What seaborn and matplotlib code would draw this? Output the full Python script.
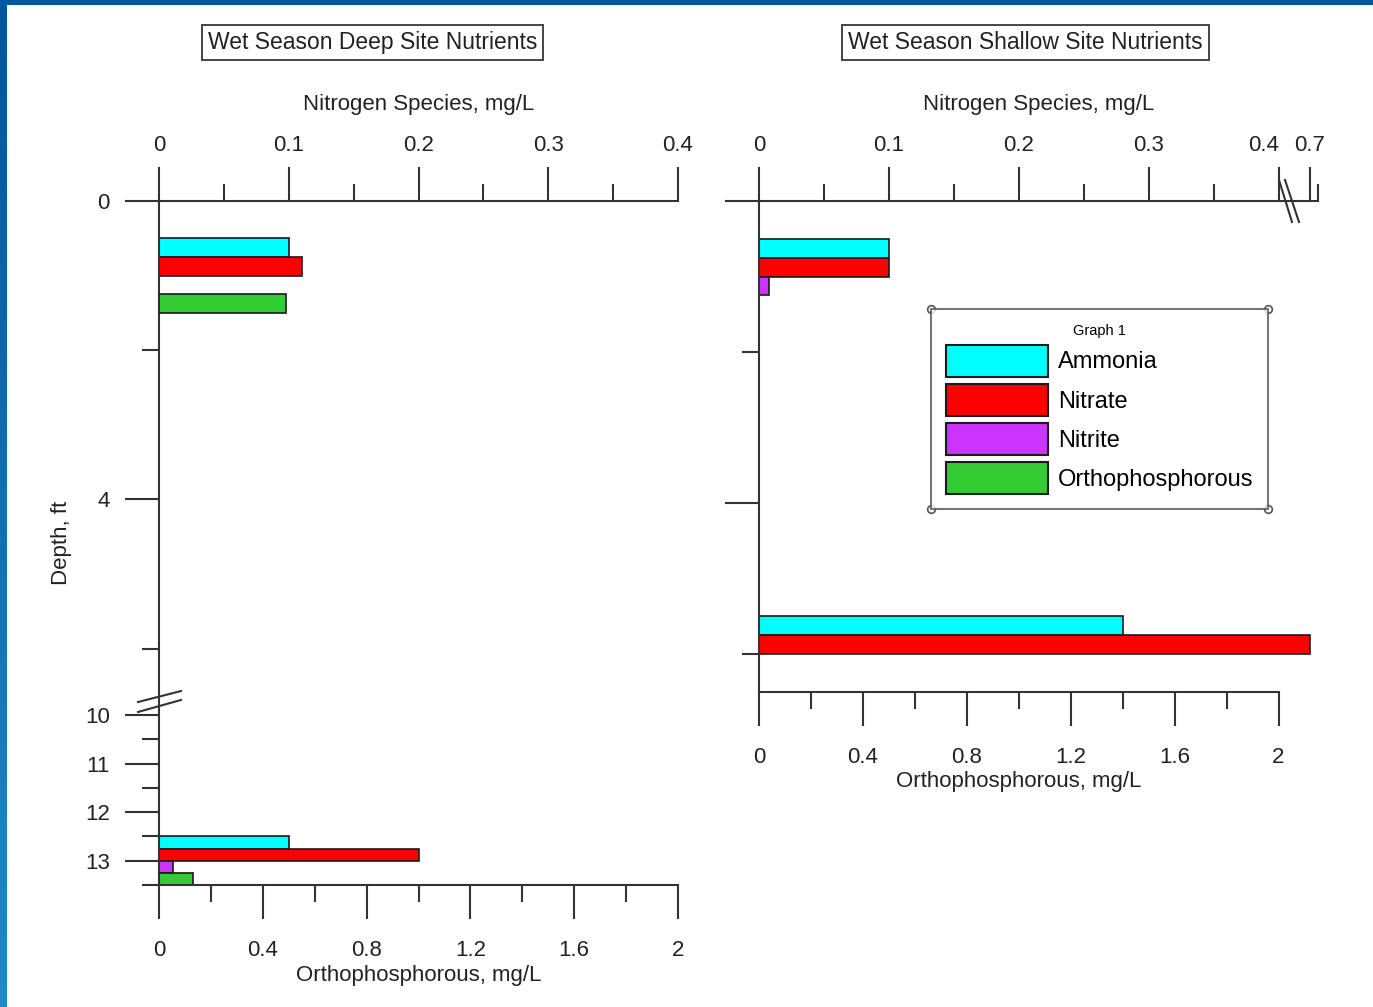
import numpy as np
import pandas as pd
import matplotlib
matplotlib.use("Agg")
import matplotlib.pyplot as plt
from matplotlib.patches import Patch, Rectangle
from matplotlib.lines import Line2D
from matplotlib.colors import LinearSegmentedColormap
from matplotlib import font_manager
import seaborn as sns

plt.rcParams["font.family"] = ["Liberation Sans", "DejaVu Sans"]

# ---- data -------------------------------------------------------------
species = ["Ammonia", "Nitrate", "Nitrite", "Orthophosphorous"]
colors = ["#00FFFF", "#FF0000", "#CC33FF", "#33CC33"]

deep_depth = [1, 13]
deep_ammonia = [0.10, 0.10]
deep_nitrate = [0.11, 0.20]
deep_nitrite = [np.nan, 0.011]
deep_ortho = [0.49, 0.13]

shallow_depth = [1, 6]
shallow_ammonia = [0.10, 0.28]
shallow_nitrate = [0.10, 0.70]
shallow_nitrite = [0.008, np.nan]
shallow_ortho = [np.nan, np.nan]

titles = ["Wet Season Deep Site Nutrients", "Wet Season Shallow Site Nutrients"]
nitro_label = "Nitrogen Species, mg/L"
ortho_label = "Orthophosphorous, mg/L"
depth_label = "Depth, ft"

nitro_ticks = [0, 0.1, 0.2, 0.3, 0.4]
nitro_tick_labels = ["0", "0.1", "0.2", "0.3", "0.4"]
nitro_minor = [0.05, 0.15, 0.25, 0.35]
nitro_break_tick = 0.7
ortho_ticks = [0, 0.4, 0.8, 1.2, 1.6, 2.0]
ortho_tick_labels = ["0", "0.4", "0.8", "1.2", "1.6", "2"]
ortho_minor = [0.2, 0.6, 1.0, 1.4, 1.8]
deep_depth_ticks = [0, 4, 10, 11, 12, 13]
deep_depth_labels = ["0", "4", "10", "11", "12", "13"]
deep_depth_minor = [2, 6, 10.5, 11.5, 12.5, 13.5]
shallow_depth_ticks = [0, 4]
shallow_depth_minor = [2, 6]

palette = dict(zip(species, colors))
INK = "#222222"
AX = "#333333"
FS = 16


def long_frame(depth, names, columns):
    parts = [pd.DataFrame({"depth": depth, "species": n, "value": v})
             for n, v in zip(names, columns)]
    return pd.concat(parts, ignore_index=True).dropna()


def broken(lo, hi, gap, k=1.0):
    """Piecewise-linear scale that squeezes (lo, hi) into a short gap."""
    def fwd(v):
        v = np.asarray(v, dtype=float)
        mid = lo + (v - lo) * gap / (hi - lo)
        top = lo + gap + (v - hi) * k
        return np.where(v <= lo, v, np.where(v >= hi, top, mid))

    def inv(u):
        u = np.asarray(u, dtype=float)
        mid = lo + (u - lo) * (hi - lo) / gap
        top = hi + (u - lo - gap) / k
        return np.where(u <= lo, u, np.where(u >= lo + gap, top, mid))
    return fwd, inv


def identity(v):
    return np.asarray(v, dtype=float)


def bars(ax, df, fwd=identity):
    # one call per depth so every group spans one foot of depth,
    # whatever the local stretch of the depth scale is
    for d, sub in df.groupby("depth"):
        w = float(fwd(d + 0.5) - fwd(d - 0.5))
        sns.barplot(data=sub, x="value", y="depth", hue="species",
                    hue_order=species, palette=palette, orient="y",
                    native_scale=True, width=w, errorbar=None,
                    dodge=True, saturation=1, edgecolor="#1a1a1a",
                    linewidth=1.2, legend=False, ax=ax)


def style_axes(ax, axo):
    ax.xaxis.tick_top()
    ax.xaxis.set_label_position("top")
    axo.xaxis.tick_bottom()
    axo.xaxis.set_label_position("bottom")
    for s in ["bottom", "right"]:
        ax.spines[s].set_visible(False)
    for s in ["top", "left", "right"]:
        axo.spines[s].set_visible(False)
    for a in (ax, axo):
        for sp in a.spines.values():
            sp.set_linewidth(1.5)
            sp.set_color(AX)
    ax.tick_params(axis="x", which="major", direction="out", length=24.5,
                   width=1.5, pad=8, top=True, bottom=False, labeltop=True,
                   labelbottom=False, labelsize=FS, colors=AX, labelcolor=INK)
    ax.tick_params(axis="x", which="minor", direction="out", length=12.2,
                   width=1.5, top=True, bottom=False, colors=AX)
    ax.tick_params(axis="y", which="major", direction="out", length=24.5,
                   width=1.5, pad=11, left=True, right=False, labelsize=FS,
                   colors=AX, labelcolor=INK)
    ax.tick_params(axis="y", which="minor", direction="out", length=12.2,
                   width=1.5, left=True, right=False, colors=AX)
    axo.tick_params(axis="x", which="major", direction="out", length=24.5,
                    width=1.5, pad=15, bottom=True, top=False,
                    labelbottom=True, labeltop=False, labelsize=FS,
                    colors=AX, labelcolor=INK)
    axo.tick_params(axis="x", which="minor", direction="out", length=12.2,
                    width=1.5, bottom=True, top=False, colors=AX)
    ax.set_facecolor("none")


fig = plt.figure(figsize=(13.73, 10.07), dpi=100)
fig.patch.set_facecolor("white")
W, H = 1373.0, 1007.0

# ---- deep site --------------------------------------------------------
depth_fwd, depth_inv = broken(6.7, 9.8, 0.06, 0.651)
axL = fig.add_axes([159 / W, 1 - 885 / H, 519 / W, 684 / H])
axL.set_yscale("function", functions=(depth_fwd, depth_inv))
axLo = axL.twiny()

deep_n = long_frame(deep_depth, species[:3], [deep_ammonia, deep_nitrate, deep_nitrite])
deep_p = long_frame(deep_depth, species[3:], [deep_ortho])
bars(axL, deep_n, depth_fwd)
bars(axLo, deep_p, depth_fwd)

axL.set_xlim(0, 0.4)
axLo.set_xlim(0, 2)
axL.set_ylim(13.5, 0)
axL.set_xticks(nitro_ticks, nitro_tick_labels)
axL.set_xticks(nitro_minor, minor=True)
axL.set_yticks(deep_depth_ticks, deep_depth_labels)
axL.set_yticks(deep_depth_minor, minor=True)
axLo.set_xticks(ortho_ticks, ortho_tick_labels)
axLo.set_xticks(ortho_minor, minor=True)
style_axes(axL, axLo)

axL.set_xlabel(nitro_label, fontsize=FS, color=INK)
axL.xaxis.set_label_coords(0.5, 1 + 97 / 684)
axL.xaxis.label.set_va("center")
axLo.set_xlabel(ortho_label, fontsize=FS, color=INK)
axLo.xaxis.set_label_coords(0.5, -90 / 684)
axLo.xaxis.label.set_va("center")
axL.set_ylabel(depth_label, fontsize=FS, color=INK)
axL.yaxis.set_label_coords(-97 / 519, 0.5)
axL.yaxis.label.set_va("center")
axL.yaxis.label.set_ha("center")
axLo.set_ylabel("")

for (x0, y0), (x1, y1) in [((-0.0405, 0.2675), (0.0424, 0.2836)),
                           ((-0.0405, 0.2529), (0.0424, 0.2705))]:
    axL.add_line(Line2D([x0, x1], [y0, y1], transform=axL.transAxes,
                        color=AX, lw=1.5, clip_on=False))

# ---- shallow site -----------------------------------------------------
axR = fig.add_axes([759 / W, 1 - 692 / H, 559 / W, 491 / H])
axR.set_xscale("function", functions=broken(0.4, 0.686, 0.01))
axRo = axR.twiny()

sh_n = long_frame(shallow_depth, species[:3], [shallow_ammonia, shallow_nitrate, shallow_nitrite])
sh_p = long_frame(shallow_depth, species[3:], [shallow_ortho])
bars(axR, sh_n)
bars(axRo, sh_p)

x_end = 0.7064
axR.set_xlim(0, x_end)
axRo.set_xlim(0, 2 * 559 / 519.5)
axR.set_ylim(6.5, 0)
axR.set_xticks(nitro_ticks + [nitro_break_tick], nitro_tick_labels + ["0.7"])
axR.set_xticks(nitro_minor + [x_end], minor=True)
axR.set_yticks(shallow_depth_ticks)
axR.set_yticks(shallow_depth_minor, minor=True)
axRo.set_xticks(ortho_ticks, ortho_tick_labels)
axRo.set_xticks(ortho_minor, minor=True)
style_axes(axR, axRo)
axR.tick_params(axis="y", labelleft=False)
axRo.spines["bottom"].set_bounds(0, 2)
axR.get_xticklabels()[4].set_ha("right")

axR.set_xlabel(nitro_label, fontsize=FS, color=INK)
axR.xaxis.set_label_coords(0.5, 1 + 97 / 491)
axR.xaxis.label.set_va("center")
axRo.set_xlabel(ortho_label, fontsize=FS, color=INK)
axRo.xaxis.set_label_coords(519.5 / 2 / 559, -90 / 491)
axRo.xaxis.label.set_va("center")
axR.set_ylabel("")
axRo.set_ylabel("")

for (x0, y0), (x1, y1) in [((0.9302, 1.0428), (0.9535, 0.9572)),
                           ((0.9410, 1.0428), (0.9660, 0.9572))]:
    axR.add_line(Line2D([x0, x1], [y0, y1], transform=axR.transAxes,
                        color=AX, lw=1.5, clip_on=False))

# ---- boxed titles -----------------------------------------------------
for cx, t in zip([372.5, 1025.5], titles):
    fig.text(cx / W, 1 - 42.5 / H, t, ha="center", va="center",
             fontsize=16.5, color=INK,
             bbox=dict(boxstyle="square,pad=0.25", fc="white", ec="#444444", lw=1.4))

# ---- legend -----------------------------------------------------------
installed = {f.name for f in font_manager.fontManager.ttflist}
if "Liberation Sans Narrow" in installed:
    leg_font = dict(family="Liberation Sans Narrow", size=21)
else:
    leg_font = dict(family="Liberation Sans", size=17)
lf = leg_font["size"] * 100 / 72.0
handles = [Patch(facecolor=palette[s], edgecolor="#1a1a1a", linewidth=1.5) for s in species]
leg = fig.legend(handles, species, loc="upper left",
                 bbox_to_anchor=(931 / W, 1 - 309 / H),
                 bbox_transform=fig.transFigure, borderaxespad=0,
                 frameon=True, fancybox=False, prop=leg_font,
                 title="Graph 1", title_fontsize=10.5,
                 handlelength=102 / lf, handleheight=1.71,
                 handletextpad=10 / lf, labelspacing=0.3,
                 borderpad=0.62)
leg.get_frame().set_edgecolor("#555555")
leg.get_frame().set_linewidth(1.5)

fig.canvas.draw()
bb = leg.get_frame().get_window_extent()
inv = fig.transFigure.inverted()
corners = inv.transform([[bb.x0, bb.y0], [bb.x1, bb.y0], [bb.x0, bb.y1], [bb.x1, bb.y1]])
fig.add_artist(Line2D(corners[:, 0], corners[:, 1], transform=fig.transFigure,
                      ls="none", marker="o", ms=5.5, mfc="white", mec="#555555", mew=1.2))

# ---- blue frame -------------------------------------------------------
strip = fig.add_axes([0, 0, 7 / W, 1])
strip.imshow(np.linspace(0, 1, 256)[:, None], aspect="auto",
             cmap=LinearSegmentedColormap.from_list("edge", ["#0055A0", "#1B8BCB"]))
strip.axis("off")
fig.add_artist(Rectangle((0, 1 - 5 / H), 1, 5 / H, transform=fig.transFigure,
                         color="#0057A0", lw=0))

fig.savefig("out.png", dpi=100)
